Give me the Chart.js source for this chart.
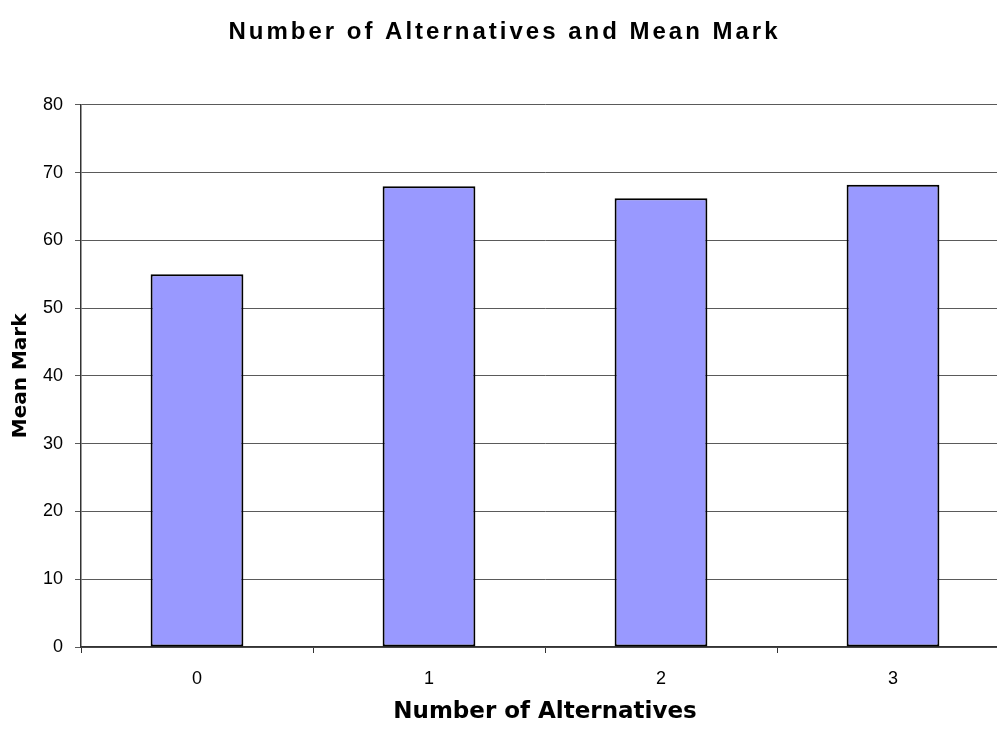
<!DOCTYPE html>
<html>
<head>
<meta charset="utf-8">
<script src="https://cdn.jsdelivr.net/npm/chart.js@4/dist/chart.umd.min.js"></script>
<style>
  html, body { margin: 0; padding: 0; background: #ffffff; overflow: hidden; }
  #wrap { width: 1020px; height: 729px; }
</style>
</head>
<body>
<div id="wrap"><canvas id="c" width="1020" height="729"></canvas></div>
<script>
// Mean mark by how many alternatives were offered
const categories = ['0', '1', '2', '3'];
const meanMark = [55, 68, 66.2, 68.2];
const yTicks = [0, 10, 20, 30, 40, 50, 60, 70, 80];

const chartTitle = 'Number of Alternatives and Mean Mark';
const xTitle = 'Number of Alternatives';
const yTitle = 'Mean Mark';

// Spreads the letters of the main title a little
const spacedTitle = {
  id: 'spacedTitle',
  beforeDraw(chart) {
    const tb = chart.titleBlock;
    if (tb && !tb._spaced) {
      const orig = tb.draw.bind(tb);
      tb.draw = function () {
        const ctx = this.ctx;
        const prev = ctx.letterSpacing;
        ctx.letterSpacing = '3px';
        orig();
        ctx.letterSpacing = prev || '0px';
      };
      tb._spaced = true;
    }
  }
};

new Chart(document.getElementById('c'), {
  type: 'bar',
  data: {
    labels: categories,
    datasets: [{
      data: meanMark,
      backgroundColor: '#9999ff',
      borderColor: '#000000',
      borderWidth: 2,
      borderSkipped: false,
      barPercentage: 0.4,
      categoryPercentage: 1.0
    }]
  },
  options: {
    responsive: false,
    animation: false,
    layout: { padding: { left: 0, right: 11, top: 0, bottom: 0 } },
    plugins: {
      legend: { display: false },
      tooltip: { enabled: false },
      title: {
        display: true,
        text: chartTitle,
        color: '#000000',
        font: { family: 'Liberation Sans', size: 24, weight: 'bold', lineHeight: 1.2 },
        padding: { top: 18, bottom: 58 }
      }
    },
    scales: {
      x: {
        afterFit(scale) { scale.height = 82; },
        grid: {
          display: true,
          drawOnChartArea: false,
          drawTicks: true,
          tickLength: 6,
          color: '#333333',
          offset: true
        },
        border: { display: true, color: '#333333', width: 1.5 },
        ticks: {
          color: '#000000',
          padding: 15,
          font: { family: 'Liberation Sans', size: 18 }
        },
        title: {
          display: true,
          text: xTitle,
          color: '#000000',
          font: { family: 'DejaVu Sans', size: 23, weight: 'bold', lineHeight: 1.2 },
          padding: { top: 4, bottom: 3 }
        }
      },
      y: {
        min: 0,
        max: 80,
        afterFit(scale) { scale.width = 81; },
        afterBuildTicks(scale) {
          scale.ticks = yTicks.map(v => ({ value: v }));
        },
        grid: {
          color: '#5a5a5a',
          lineWidth: 1,
          drawTicks: true,
          tickLength: 6
        },
        border: { display: true, color: '#333333', width: 1.5 },
        ticks: {
          color: '#000000',
          padding: 12,
          font: { family: 'Liberation Sans', size: 18 }
        },
        title: {
          display: true,
          text: yTitle,
          color: '#000000',
          font: { family: 'DejaVu Sans', size: 20, weight: 'bold', lineHeight: 1.2 },
          padding: { top: 9, bottom: 8 }
        }
      }
    }
  },
  plugins: [spacedTitle]
});
</script>
</body>
</html>
